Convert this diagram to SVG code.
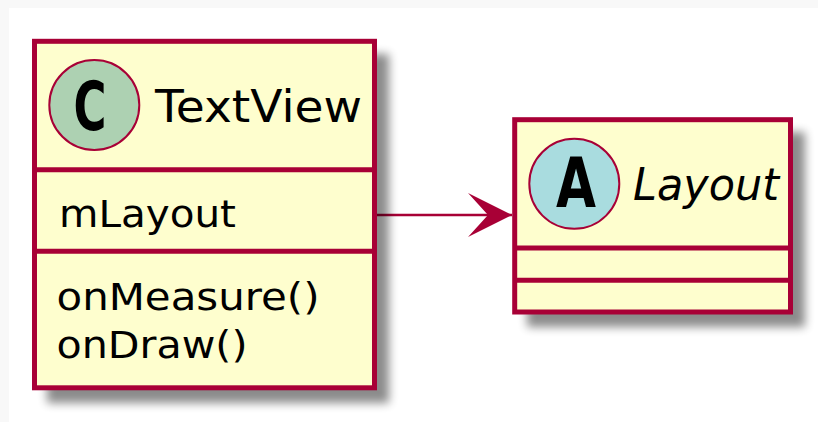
<svg xmlns="http://www.w3.org/2000/svg" width="818" height="422" viewBox="0 0 818 422">
<style>
.box{fill:#FEFECE;stroke:#A80036;stroke-width:5}
.div{stroke:#A80036;stroke-width:5;fill:none}
.txt{font-family:"DejaVu Sans","Liberation Sans",sans-serif;fill:#000}
.shadow{fill:#000;opacity:0.45;filter:url(#blur)}
.circ{stroke:#A80036;stroke-width:2}
.glyph{font-family:"DejaVu Sans","Liberation Sans",sans-serif;font-weight:bold;fill:#000}
</style>
<defs>
<filter id="blur" x="-20%" y="-20%" width="140%" height="140%"><feGaussianBlur stdDeviation="5"/></filter>
<marker id="arrow" markerUnits="userSpaceOnUse" markerWidth="50" markerHeight="50" refX="45" refY="23" orient="auto" viewBox="0 0 50 46">
<path d="M45,23 L1,1 L21,23 L1,45 Z" fill="#A80036"/>
</marker>
</defs>
<rect x="0" y="0" width="818" height="422" fill="#F8F8F8"/>
<rect x="9" y="8" width="809" height="414" fill="#FFFFFF"/>

<g id="connectors">
<line x1="377" y1="215" x2="512" y2="215" stroke="#A80036" stroke-width="2.5" marker-end="url(#arrow)"/>
</g>

<g id="TextView">
<rect class="shadow" x="47" y="54" width="342" height="349"/>
<rect class="box" x="34.5" y="41.3" width="340" height="346.5"/>
<line class="div" x1="34.5" y1="169.7" x2="374.5" y2="169.7"/>
<line class="div" x1="34.5" y1="251.3" x2="374.5" y2="251.3"/>
<circle class="circ" cx="94.3" cy="105" r="45" fill="#ADD1B2"/>
<text class="glyph" x="73.5" y="130" font-size="68" textLength="33" lengthAdjust="spacingAndGlyphs">C</text>
<text class="txt" x="155" y="121.7" font-size="45" textLength="207" lengthAdjust="spacingAndGlyphs">TextView</text>
<text class="txt" x="59" y="226.7" font-size="37" textLength="177" lengthAdjust="spacingAndGlyphs">mLayout</text>
<text class="txt" x="56.5" y="310" font-size="37" textLength="263" lengthAdjust="spacingAndGlyphs">onMeasure()</text>
<text class="txt" x="56.5" y="358.3" font-size="37" textLength="191" lengthAdjust="spacingAndGlyphs">onDraw()</text>
</g>

<g id="Layout">
<rect class="shadow" x="527" y="132" width="278" height="195"/>
<rect class="box" x="514.7" y="119.7" width="275.8" height="192.3"/>
<line class="div" x1="514.7" y1="248" x2="790.5" y2="248"/>
<line class="div" x1="514.7" y1="280.3" x2="790.5" y2="280.3"/>
<circle class="circ" cx="574.3" cy="183.8" r="45" fill="#A9DCDF"/>
<text class="glyph" x="556" y="207.3" font-size="69" textLength="40" lengthAdjust="spacingAndGlyphs">A</text>
<text class="txt" x="633" y="200" font-size="45" font-style="italic" textLength="146" lengthAdjust="spacingAndGlyphs">Layout</text>
</g>
</svg>
